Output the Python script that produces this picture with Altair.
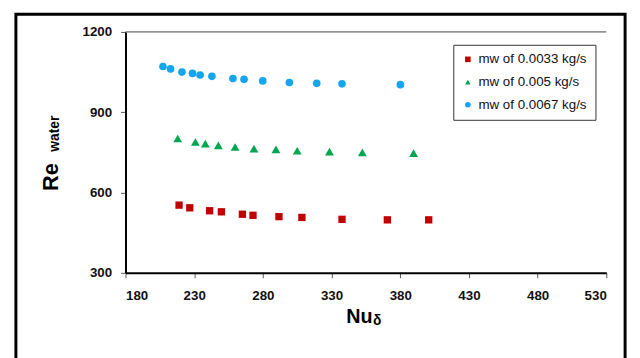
import altair as alt
import pandas as pd

series_names = ["mw of 0.0033 kg/s", "mw of 0.005 kg/s", "mw of 0.0067 kg/s"]

nu_red = [219, 226.8, 241.2, 249.8, 265.1, 272.8, 291.7, 308.4, 337.6, 370.6, 400.7]
re_red = [553, 543, 532, 528, 519, 515, 510, 507, 500, 498, 498]

nu_green = [218, 230.9, 238.1, 247.6, 259.8, 273.5, 289.5, 305, 328.5, 352.4, 389.7]
re_green = [802, 789, 783, 776, 770, 764, 761, 756, 753, 750, 747]

nu_blue = [207.3, 212.8, 221.1, 228.8, 234.3, 242.9, 258.2, 266.3, 279.9, 299.3, 319.2, 337.6, 380.1]
re_blue = [1071, 1062, 1050, 1045, 1039, 1034, 1026, 1023, 1017, 1011, 1008, 1006, 1003]

x_ticks = [180, 230, 280, 330, 380, 430, 480, 530]
y_ticks = [300, 600, 900, 1200]

colors = ["#C00000", "#00A650", "#14A5EC"]
shapes = ["square", "triangle-up", "circle"]

rows = []
for name, xs, ys in [(series_names[0], nu_red, re_red),
                     (series_names[1], nu_green, re_green),
                     (series_names[2], nu_blue, re_blue)]:
    for a, b in zip(xs, ys):
        rows.append({"Nu": a, "Re": b, "series": name})
df = pd.DataFrame(rows)

FONT = "Liberation Sans"
W, H = 487, 244

xscale = alt.Scale(domain=[180, 530], nice=False, zero=False)
yscale = alt.Scale(domain=[300, 1200], nice=False, zero=False)

points = alt.Chart(df).transform_calculate(
    msize=f"datum.series === '{series_names[1]}' ? 80 : (datum.series === '{series_names[0]}' ? 55 : 60)"
).mark_point(filled=True, opacity=1).encode(
    x=alt.X("Nu:Q", scale=xscale,
            axis=alt.Axis(values=x_ticks, title=None, grid=False, domainColor="black",
                          domainWidth=2, tickColor="#555555", tickSize=5, labelPadding=11,
                          labelFont=FONT, labelFontSize=13.5, labelFontWeight="bold",
                          labelColor="#111111", format="d")),
    y=alt.Y("Re:Q", scale=yscale,
            axis=alt.Axis(values=y_ticks, title=None, grid=False, domainColor="black",
                          domainWidth=2, tickColor="#555555", tickSize=5, labelPadding=9,
                          labelFont=FONT, labelFontSize=13.5, labelFontWeight="bold",
                          labelColor="#111111", format="d")),
    color=alt.Color("series:N", scale=alt.Scale(domain=series_names, range=colors),
                    legend=alt.Legend(title=None, orient="none", legendX=332, legendY=13,
                                      strokeColor="#333333", padding=8,
                                      labelFont=FONT, labelFontSize=13.5, labelColor="#111111",
                                      symbolSize=32, rowPadding=8, labelOffset=4)),
    shape=alt.Shape("series:N", scale=alt.Scale(domain=series_names, range=shapes), legend=None),
    size=alt.Size("msize:Q", scale=None, legend=None),
)

top_line = alt.Chart(pd.DataFrame({"y": [1200]})).mark_rule(color="#444444", strokeWidth=1).encode(
    y=alt.Y("y:Q", scale=yscale)
)

border = alt.Chart(pd.DataFrame({"a": [0]})).mark_rect(
    fill=None, fillOpacity=0, stroke="black", strokeWidth=3, clip=False
).encode(x=alt.value(-111), x2=alt.value(506), y=alt.value(-18), y2=alt.value(340))

title_df = pd.DataFrame({"a": [0]})
re_txt = alt.Chart(title_df).mark_text(text="Re", font=FONT, fontSize=22, fontWeight="bold",
                                        angle=270, align="center", baseline="middle", color="black").encode(
    x=alt.value(-75), y=alt.value(147))
water_txt = alt.Chart(title_df).mark_text(text="water", font=FONT, fontSize=14, fontWeight="bold",
                                           angle=270, align="center", baseline="middle", color="black").encode(
    x=alt.value(-71), y=alt.value(103))
nu_txt = alt.Chart(title_df).mark_text(text="Nu", font=FONT, fontSize=20, fontWeight="bold",
                                        align="center", baseline="middle", color="black").encode(
    x=alt.value(237), y=alt.value(289))
delta_txt = alt.Chart(title_df).mark_text(text="δ", font=FONT, fontSize=14, fontWeight="bold",
                                           align="center", baseline="middle", color="black").encode(
    x=alt.value(255), y=alt.value(293))

chart = alt.layer(top_line, points, border, re_txt, water_txt, nu_txt, delta_txt).properties(
    width=W, height=H,
    autosize=alt.AutoSizeParams(type="none"),
    padding={"left": 119, "top": 22, "right": 26, "bottom": 84},
    background="white",
).configure_view(stroke=None)

chart.save("out.html", embed_options={"renderer": "svg", "actions": False})
